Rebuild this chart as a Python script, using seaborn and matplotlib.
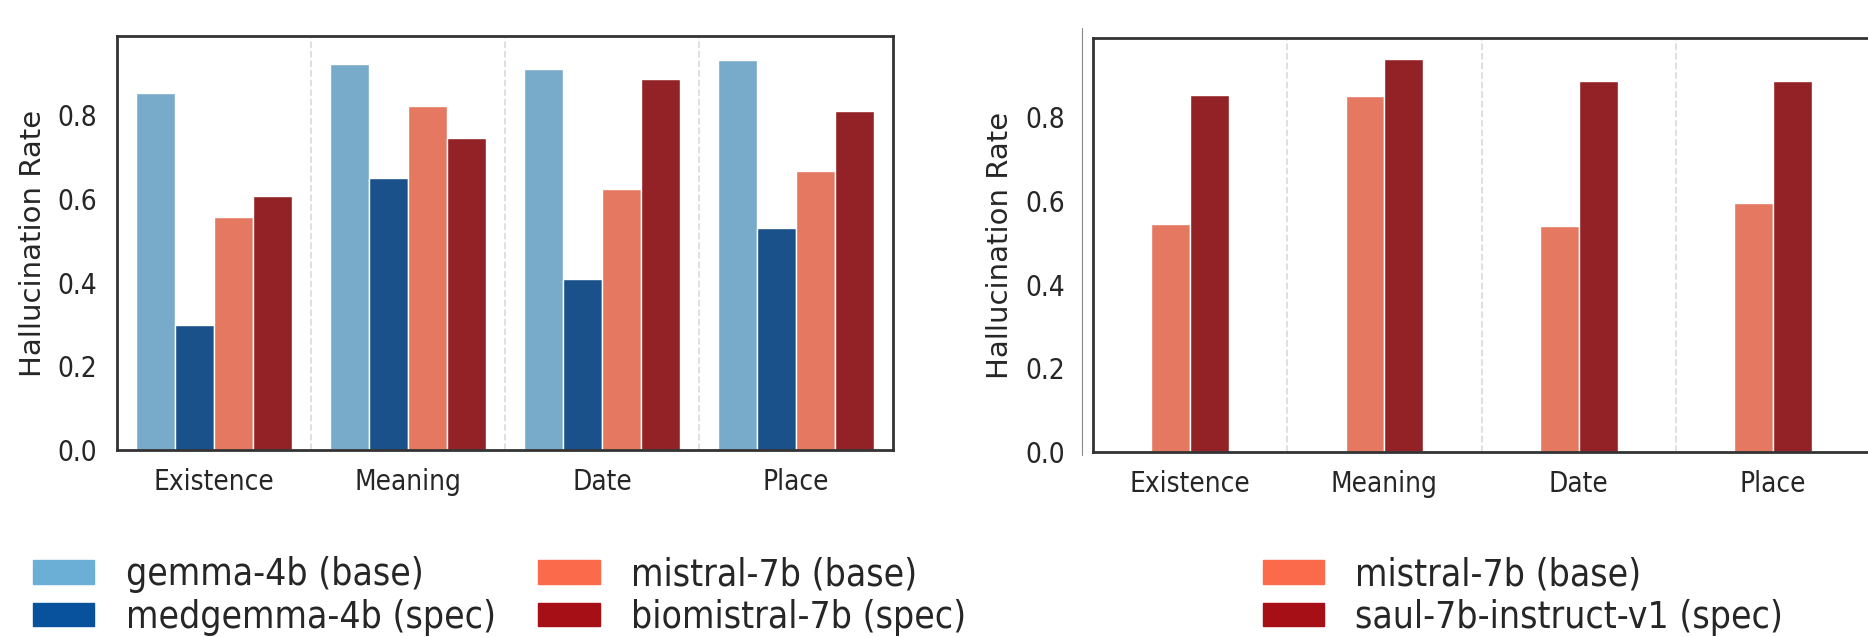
import matplotlib.pyplot as plt
import pandas as pd
import seaborn as sns
from matplotlib.lines import Line2D
from matplotlib.patches import Patch

categories = ["Existence", "Meaning", "Date", "Place"]

left_models = ["gemma-4b (base)", "medgemma-4b (spec)",
               "mistral-7b (base)", "biomistral-7b (spec)"]
gemma = [0.854, 0.923, 0.911, 0.932]
medgemma = [0.300, 0.650, 0.410, 0.531]
mistral = [0.558, 0.822, 0.624, 0.668]
biomistral = [0.608, 0.747, 0.886, 0.810]

right_models = ["mistral-7b (base)", "saul-7b-instruct-v1 (spec)"]
mistral_r = [0.544, 0.851, 0.541, 0.596]
saul = [0.854, 0.939, 0.886, 0.886]

left_colors = ["#6baed6", "#08519c", "#fb6a4a", "#a50f15"]
right_colors = ["#fb6a4a", "#a50f15"]


def long_df(models, series):
    rows = []
    for m, vals in zip(models, series):
        for c, v in zip(categories, vals):
            rows.append({"category": c, "model": m, "rate": v})
    return pd.DataFrame(rows)


def style_axes(ax, ypad):
    ax.set_xlim(-0.5, 3.5)
    ax.set_ylim(0, 0.99)
    ax.set_yticks([0.0, 0.2, 0.4, 0.6, 0.8])
    for x in [0.5, 1.5, 2.5]:
        ax.axvline(x, color="#dddddd", linestyle="--", linewidth=1.3, zorder=0)
    for s in ax.spines.values():
        s.set_visible(True)
        s.set_color("#333333")
        s.set_linewidth(2.0)
    ax.set_xlabel("")
    ax.set_ylabel("Hallucination Rate", fontsize=21, labelpad=8)
    ax.tick_params(axis="x", length=0, pad=13, labelsize=20)
    ax.tick_params(axis="y", length=0, pad=ypad, labelsize=20)
    for lab in ax.get_xticklabels() + ax.get_yticklabels():
        lab.set_fontstretch("condensed")


sns.set_theme(style="white")
plt.rcParams["font.family"] = ["DejaVu Sans"]

fig = plt.figure(figsize=(18.68, 6.37), dpi=100)
ax1 = fig.add_axes([0.0626, 0.2936, 0.4154, 0.65])
ax2 = fig.add_axes([0.5851, 0.2904, 0.4160, 0.65])

df_left = long_df(left_models, [gemma, medgemma, mistral, biomistral])
sns.barplot(data=df_left, x="category", y="rate", hue="model",
            palette=left_colors, width=0.8, edgecolor="white", linewidth=1,
            legend=False, ax=ax1)
style_axes(ax1, 14)

df_right = long_df(right_models, [mistral_r, saul])
sns.barplot(data=df_right, x="category", y="rate", hue="model",
            palette=right_colors, width=0.4, edgecolor="white", linewidth=1,
            legend=False, ax=ax2)
style_axes(ax2, 20)

# thin leftover line next to the right panel
fig.add_artist(Line2D([1082 / 1868, 1082 / 1868], [1 - 455 / 637, 1 - 28 / 637],
                      color="#888888", linewidth=0.8))

leg_kw = dict(frameon=False, loc="upper left", borderpad=0, borderaxespad=0,
              handlelength=1.65, handleheight=0.6, handletextpad=0.85,
              labelspacing=0.15, prop={"size": 26.7, "stretch": "condensed"})
h1 = [Patch(color=c) for c in left_colors]
fig.legend(h1, left_models, ncol=2, columnspacing=1.15,
           bbox_to_anchor=(0.0177, 0.127), **leg_kw)
h2 = [Patch(color=c) for c in right_colors]
fig.legend(h2, right_models, ncol=1,
           bbox_to_anchor=(0.676, 0.127), **leg_kw)

fig.savefig("out.png", dpi=100)
